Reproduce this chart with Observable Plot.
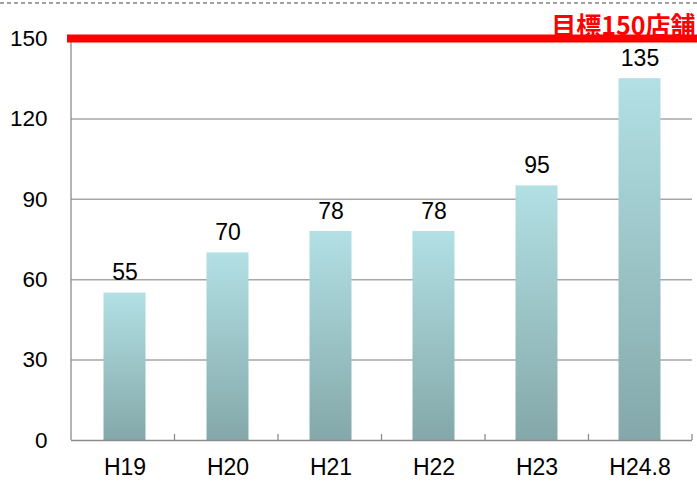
<!DOCTYPE html>
<html>
<head>
<meta charset="utf-8">
<script src="https://cdn.jsdelivr.net/npm/d3@7"></script>
<script src="https://cdn.jsdelivr.net/npm/@observablehq/plot@0.6"></script>
<style>
  html, body { margin: 0; padding: 0; background: #fff; }
  #chart { position: relative; width: 697px; height: 482px; }
  #chart svg { font-family: "Liberation Sans", Arial, sans-serif; }
</style>
</head>
<body>
<div id="chart"></div>
<script>
const categories = ["H19", "H20", "H21", "H22", "H23", "H24.8"];
const values = [55, 70, 78, 78, 95, 135];
const yTicks = [0, 30, 60, 90, 120, 150];
const gridTicks = [30, 60, 90, 120];
const target = 150;
const targetLabel = "目標150店舗";

const data = categories.map((c, i) => ({cat: c, value: values[i]}));

const W = 697, H = 482;
const mL = 71, mR = 5, mT = 38, mB = 42;

// gradient defs
const defsMark = () => {
  const defs = d3.create("svg:defs");
  const g = defs.append("linearGradient").attr("id", "barGrad")
    .attr("x1", 0).attr("y1", 0).attr("x2", 0).attr("y2", 1);
  g.append("stop").attr("offset", "0%").attr("stop-color", "#b2e0e4");
  g.append("stop").attr("offset", "100%").attr("stop-color", "#84a8a9");
  return defs.node();
};

// left axis line and band boundary ticks
const frameMark = (index, scales, values_, dims) => {
  const g = d3.create("svg:g");
  const x0 = dims.marginLeft, x1 = dims.width - dims.marginRight;
  const yb = dims.height - dims.marginBottom;
  const yt = scales.y(target);
  g.append("line").attr("x1", x0).attr("x2", x0).attr("y1", yt).attr("y2", yb)
    .attr("stroke", "#8c8c8c").attr("stroke-width", 1.3);
  const n = categories.length;
  const step = (x1 - x0) / n;
  for (let i = 1; i <= n; i++) {
    const xx = x0 + step * i;
    g.append("line").attr("x1", xx).attr("x2", xx).attr("y1", yb).attr("y2", yb - 6)
      .attr("stroke", "#8c8c8c").attr("stroke-width", 1.3);
  }
  return g.node();
};

const chart = Plot.plot({
  width: W,
  height: H,
  marginLeft: mL,
  marginRight: mR,
  marginTop: mT,
  marginBottom: mB,
  style: {fontFamily: "Liberation Sans, Arial, sans-serif", color: "#000", background: "#fff"},
  x: {domain: categories, padding: 0},
  y: {domain: [0, 150]},
  marks: [
    defsMark,
    Plot.ruleY(gridTicks, {stroke: "#a6a6a6", strokeWidth: 1.5}),
    Plot.axisX({label: null, tickSize: 0, tickPadding: 18, fontSize: 23, fill: "#000"}),
    Plot.axisY({ticks: yTicks, label: null, tickSize: 0, tickPadding: 24, fontSize: 22.5, fill: "#000"}),
    Plot.barY(data, {x: "cat", y: "value", fill: "url(#barGrad)", insetLeft: 30.5, insetRight: 30.5}),
    Plot.ruleY([0], {stroke: "#8c8c8c", strokeWidth: 1.5}),
    frameMark,
    Plot.text(data, {x: "cat", y: "value", text: d => String(d.value), dy: -20, fontSize: 23, fill: "#000"}),
    Plot.ruleY([target], {stroke: "#ff0000", strokeWidth: 8, insetLeft: -4, insetRight: -5}),
    Plot.text([targetLabel], {frameAnchor: "top-right", lineAnchor: "bottom", text: d => d, dy: -4, dx: 3, fill: "#ff0000", fontSize: 25, fontWeight: "bold", textAnchor: "end", fontFamily: "Noto Sans CJK JP, sans-serif"})
  ]
});

const holder = document.getElementById("chart");
holder.appendChild(chart);

// dashed top border
const svg = d3.select(chart);
svg.append("line").attr("x1", 0).attr("x2", W).attr("y1", 3).attr("y2", 3)
  .attr("stroke", "#444").attr("stroke-width", 1).attr("stroke-dasharray", "4,3");
</script>
</body>
</html>
